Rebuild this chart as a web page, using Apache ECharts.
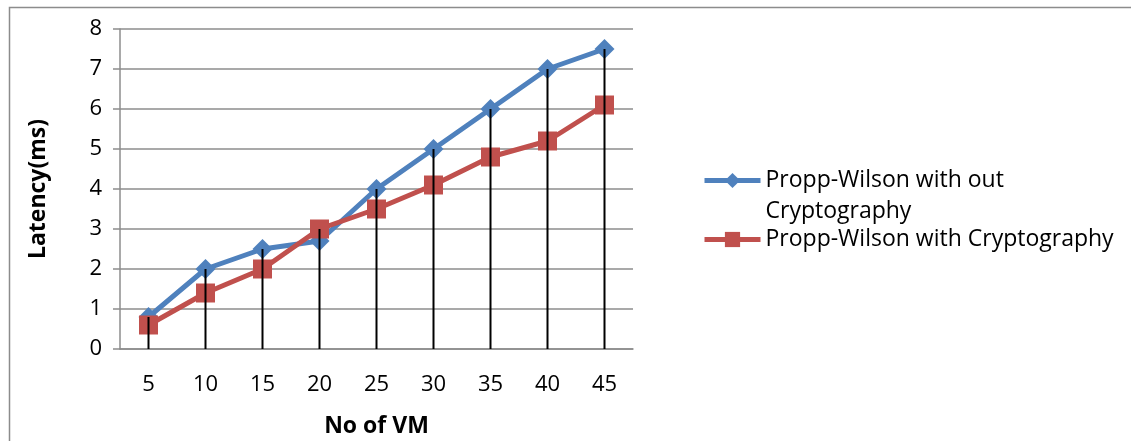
<!DOCTYPE html>
<html>
<head>
<meta charset="utf-8">
<script src="https://cdn.jsdelivr.net/npm/echarts@6/dist/echarts.min.js"></script>
<style>
  html, body { margin: 0; padding: 0; background: #fff; }
  #chart { width: 1131px; height: 441px; }
</style>
</head>
<body>
<div id="chart"></div>
<script>
// Number of VMs on the x axis
const vmCounts = ['5', '10', '15', '20', '25', '30', '35', '40', '45'];
// Latency in ms
const withoutCrypto = [0.8, 2, 2.5, 2.7, 4, 5, 6, 7, 7.5];
const withCrypto = [0.6, 1.4, 2, 3, 3.5, 4.1, 4.8, 5.2, 6.1];
const yTicks = [0, 1, 2, 3, 4, 5, 6, 7, 8];

const nameA = 'Propp-Wilson with out Cryptography';
const nameB = 'Propp-Wilson with Cryptography';

// drop lines reach from the higher of the two points down to the axis
const dropTops = withoutCrypto.map((v, i) => Math.max(v, withCrypto[i]));

const FONT = '"Open Sans", sans-serif';
const chart = echarts.init(document.getElementById('chart'));

chart.setOption({
  animation: false,
  backgroundColor: '#fff',
  graphic: [{
    type: 'rect',
    left: 7, top: 5,
    shape: { width: 1200, height: 500 },
    style: { fill: 'none', stroke: '#8c8c8c', lineWidth: 1.5 },
    silent: true
  }],
  grid: { left: 120, right: 498, top: 29, bottom: 92, containLabel: false, outerBoundsMode: 'none' },
  legend: {
    orient: 'vertical',
    left: 702,
    top: 134,
    padding: 0,
    itemWidth: 56,
    itemHeight: 19,
    itemGap: -3,
    data: [nameA, nameB],
    lineStyle: { width: 5 },
    formatter: function (name) {
      return name === nameA ? '\nPropp-Wilson with out\nCryptography' : name;
    },
    textStyle: { fontFamily: FONT, fontSize: 23, color: '#000', lineHeight: 31 }
  },
  xAxis: {
    type: 'category',
    data: vmCounts,
    boundaryGap: true,
    name: 'No of VM',
    nameLocation: 'middle',
    nameGap: 66,
    nameTextStyle: { fontFamily: FONT, fontSize: 23, fontWeight: 'bold', color: '#000' },
    axisLine: { show: true, lineStyle: { color: '#8c8c8c', width: 1.5 } },
    axisTick: { show: false },
    axisLabel: { fontFamily: FONT, fontSize: 22, color: '#000', margin: 25 },
    splitLine: { show: false }
  },
  yAxis: {
    type: 'value',
    min: yTicks[0],
    max: yTicks[yTicks.length - 1],
    interval: 1,
    name: 'Latency(ms)',
    nameLocation: 'middle',
    nameGap: 70,
    nameTextStyle: { fontFamily: FONT, fontSize: 23, fontWeight: 'bold', color: '#000' },
    axisLine: { show: true, lineStyle: { color: '#8c8c8c', width: 1.5 } },
    axisTick: { show: true, length: 7, lineStyle: { color: '#8c8c8c', width: 1.5 } },
    axisLabel: { fontFamily: FONT, fontSize: 22, color: '#000', margin: 18 },
    splitLine: { show: true, lineStyle: { color: '#8c8c8c', width: 1.5 } }
  },
  series: [
    {
      name: nameA,
      type: 'line',
      data: withoutCrypto,
      symbol: 'diamond',
      symbolSize: 20,
      lineStyle: { color: '#4F81BD', width: 5 },
      itemStyle: { color: '#4F81BD' },
      z: 2
    },
    {
      name: nameB,
      type: 'line',
      data: withCrypto,
      symbol: 'rect',
      symbolSize: 19,
      lineStyle: { color: '#C0504D', width: 5 },
      itemStyle: { color: '#C0504D' },
      z: 3
    },
    {
      name: 'drop',
      type: 'bar',
      data: dropTops,
      barWidth: 2,
      itemStyle: { color: '#000' },
      z: 5,
      silent: true
    }
  ]
});
</script>
</body>
</html>
